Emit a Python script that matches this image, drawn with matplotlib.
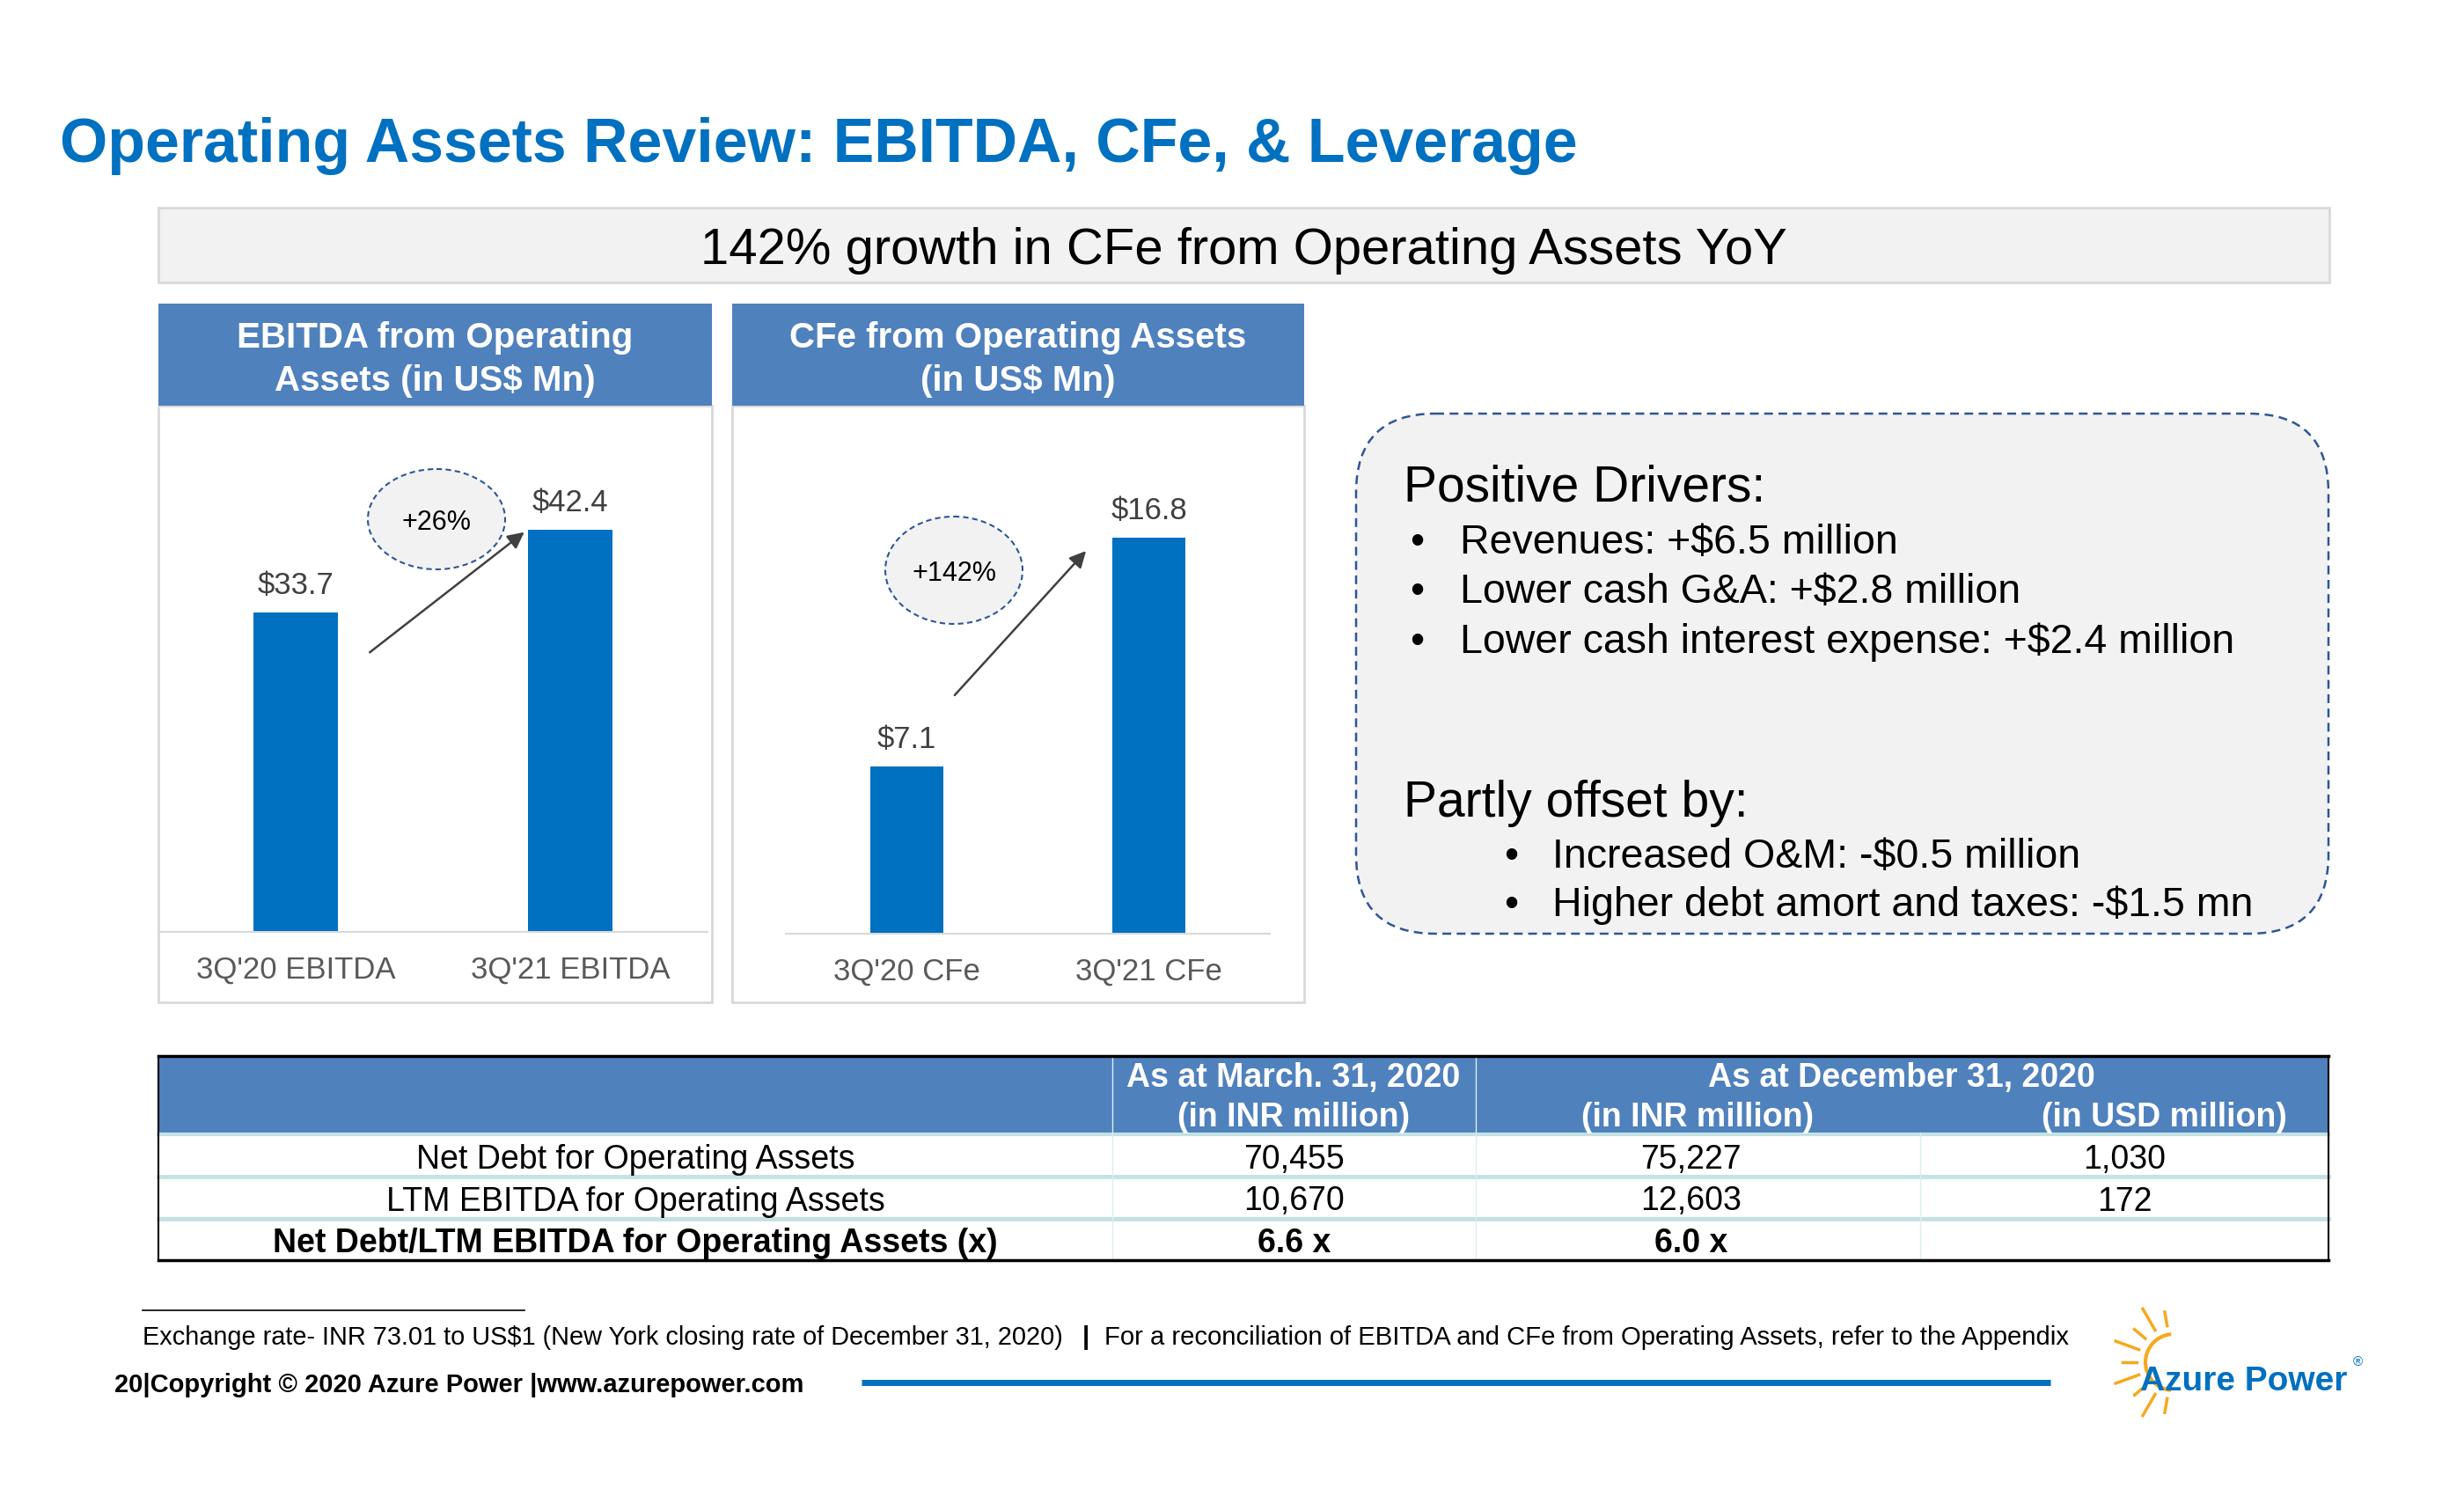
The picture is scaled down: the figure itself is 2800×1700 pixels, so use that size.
import matplotlib
matplotlib.use("Agg")
import matplotlib.pyplot as plt
from matplotlib.patches import Rectangle, Ellipse, FancyBboxPatch, Arc
import numpy as np

plt.rcParams['font.family'] = ['Liberation Sans', 'DejaVu Sans']

# data
ebitda_labels = ["3Q'20 EBITDA", "3Q'21 EBITDA"]
ebitda_values = [33.7, 42.4]
cfe_labels = ["3Q'20 CFe", "3Q'21 CFe"]
cfe_values = [7.1, 16.8]
ebitda_growth = "+26%"
cfe_growth = "+142%"

positive_drivers = ["Revenues: +$6.5 million",
                    "Lower cash G&A: +$2.8 million",
                    "Lower cash interest expense: +$2.4 million"]
offsets = ["Increased O&M: -$0.5 million",
           "Higher debt amort and taxes: -$1.5 mn"]

row_labels = ["Net Debt for Operating Assets",
              "LTM EBITDA for Operating Assets",
              "Net Debt/LTM EBITDA for Operating Assets (x)"]
mar20_inr = ["70,455", "10,670", "6.6 x"]
dec20_inr = ["75,227", "12,603", "6.0 x"]
dec20_usd = ["1,030", "172", ""]

BLUE = '#0070C0'
HEAD = '#4F81BD'
DASH = '#2F5597'
GRAY_BG = '#F2F2F2'

W, H = 2800, 1700
dy = 4  # small vertical nudge for centred text
fig = plt.figure(figsize=(28, 17), dpi=100)

# background layer in pixel coords
bg = fig.add_axes([0, 0, 1, 1], zorder=0)
bg.set_xlim(0, W)
bg.set_ylim(H, 0)
bg.axis('off')

# top layer for text / annotations
fg = fig.add_axes([0, 0, 1, 1], zorder=5)
fg.set_xlim(0, W)
fg.set_ylim(H, 0)
fg.axis('off')
fg.patch.set_alpha(0)

fg.text(68, 166, "Operating Assets Review: EBITDA, CFe, & Leverage", fontsize=50.3,
        fontweight='bold', color=BLUE, ha='left', va='center')

# banner
bg.add_patch(Rectangle((180, 236), 2467, 85, fc=GRAY_BG, ec='#D9D9D9', lw=2))
fg.text(1413, 281 + dy, "142% growth in CFe from Operating Assets YoY", fontsize=41.8,
        ha='center', va='center', color='black')

# chart panels
panels = [(180, 809, ["EBITDA from Operating", "Assets (in US$ Mn)"]),
          (832, 1482, ["CFe from Operating Assets", "(in US$ Mn)"])]
for x0, x1, lines in panels:
    bg.add_patch(Rectangle((x0, 461), x1 - x0, 678, fc='white', ec='#D9D9D9', lw=2))
    bg.add_patch(Rectangle((x0, 345), x1 - x0, 116, fc=HEAD, ec='none'))
    for k, line in enumerate(lines):
        fg.text((x0 + x1) / 2, 380 + dy + k * 49, line, fontsize=29, fontweight='bold',
                color='white', ha='center', va='center')


def bar_panel(rect, labels, values, ymax):
    ax = fig.add_axes(rect, zorder=2)
    ax.patch.set_alpha(0)
    x = np.arange(len(values))
    ax.bar(x, values, width=0.305, color=BLUE)
    ax.set_xlim(-0.5, 1.5)
    ax.set_ylim(0, ymax)
    for s in ['top', 'right', 'left']:
        ax.spines[s].set_visible(False)
    ax.spines['bottom'].set_color('#D9D9D9')
    ax.spines['bottom'].set_linewidth(1.5)
    ax.set_yticks([])
    ax.set_xticks(x)
    ax.set_xticklabels(labels, fontsize=25, color='#595959')
    ax.tick_params(axis='x', length=0, pad=19)
    for xi, v in zip(x, values):
        ax.annotate('$%.1f' % v, (xi, v), xytext=(0, 22), textcoords='offset points',
                    ha='center', va='center', fontsize=25, color='#404040')
    return ax


bar_panel([180 / W, 1 - 1059 / H, 624 / W, 598 / H], ebitda_labels, ebitda_values, 55.5)
bar_panel([893 / W, 1 - 1061 / H, 550 / W, 600 / H], cfe_labels, cfe_values, 22.4)

# growth callouts
for (cx, cy, eh), txt, start, end in [((496, 590, 114), ebitda_growth, (418, 743), (598, 603)),
                                      ((1084, 648, 122), cfe_growth, (1083, 792), (1236, 624))]:
    fg.add_patch(Ellipse((cx, cy), 156, eh, fc=GRAY_BG, ec=DASH, lw=1.5, ls=(0, (3, 2))))
    fg.text(cx, cy + dy, txt, fontsize=22, ha='center', va='center', color='black')
    fg.annotate('', xy=end, xytext=start,
                arrowprops=dict(arrowstyle='-|>', color='#404040', lw=1.8, mutation_scale=28))

# drivers box
bg.add_patch(FancyBboxPatch((1541, 470), 1105, 591, boxstyle="round,pad=0,rounding_size=90",
                            fc=GRAY_BG, ec=DASH, lw=1.8, ls=(0, (4, 2.5))))
fg.text(1595, 550 + dy, "Positive Drivers:", fontsize=41, ha='left', va='center')
for k, item in enumerate(positive_drivers):
    y = 613 + dy + k * 56.5
    fg.text(1602, y, u"\u2022", fontsize=33, ha='left', va='center')
    fg.text(1659, y, item, fontsize=33.5, ha='left', va='center')
fg.text(1595, 909 + dy, "Partly offset by:", fontsize=41, ha='left', va='center')
for k, item in enumerate(offsets):
    y = 970 + dy + k * 55
    fg.text(1709, y, u"\u2022", fontsize=33, ha='left', va='center')
    fg.text(1764, y, item, fontsize=33.5, ha='left', va='center')

# table
tx0, tx1 = 180, 2646
ty0, thead, ty1 = 1200, 1287, 1432
cols = [180, 1264, 1677, 2182, 2646]
bg.add_patch(Rectangle((tx0, ty0), tx1 - tx0, thead - ty0, fc=HEAD, ec='none'))
bg.add_patch(Rectangle((tx0, thead), tx1 - tx0, ty1 - thead, fc='white', ec='none'))
TEAL = '#C4E1E4'
bg.plot([tx0, tx1], [thead + 2, thead + 2], color=TEAL, lw=3)
for yy in [1337, 1385]:
    bg.plot([tx0, tx1], [yy, yy], color=TEAL, lw=3.5)
for xx in cols[1:3]:
    bg.plot([xx, xx], [ty0, ty1], color='#DDEEF0', lw=1)
bg.plot([cols[3], cols[3]], [thead, ty1], color='#DDEEF0', lw=1)
bg.plot([tx0, tx1], [ty0, ty0], color='black', lw=2.5)
bg.plot([tx0, tx1], [ty1, ty1], color='black', lw=2.5)
bg.plot([tx0, tx0], [ty0, ty1], color='black', lw=1.5)
bg.plot([tx1, tx1], [ty0, ty1], color='black', lw=1.5)

hk = dict(fontsize=27, fontweight='bold', color='white', ha='center', va='center')
fg.text(1470, 1221 + dy, "As at March. 31, 2020", **hk)
fg.text(1470, 1266 + dy, "(in INR million)", **hk)
fg.text(2161, 1221 + dy, "As at December 31, 2020", **hk)
fg.text(1929, 1266 + dy, "(in INR million)", **hk)
fg.text(2459, 1266 + dy, "(in USD million)", **hk)

col_centers = [(cols[i] + cols[i + 1]) / 2 for i in range(4)]
for r in range(len(row_labels)):
    y = 1314 + dy + r * 47.5
    w = 'bold' if r == 2 else 'normal'
    cells = [row_labels[r], mar20_inr[r], dec20_inr[r], dec20_usd[r]]
    for c, val in enumerate(cells):
        fg.text(col_centers[c] - (8 if c == 2 else 0), y, val, fontsize=27, fontweight=w,
                ha='center', va='center', color='black')

# footer
fg.plot([162, 596], [1489, 1489], color='black', lw=1.2)
fg.text(162, 1516 + dy, "Exchange rate- INR 73.01 to US$1 (New York closing rate of December 31, 2020)",
        fontsize=20.8, ha='left', va='center')
fg.text(1230, 1516 + dy, "|", fontsize=21, fontweight='bold', ha='left', va='center')
fg.text(1255, 1516 + dy, "For a reconciliation of EBITDA and CFe from Operating Assets, refer to the Appendix",
        fontsize=21.1, ha='left', va='center')
fg.text(130, 1570 + dy, u"20|Copyright \u00a9 2020 Azure Power |www.azurepower.com", fontsize=21,
        fontweight='bold', ha='left', va='center')
fg.plot([979, 2330], [1571, 1571], color=BLUE, lw=5, solid_capstyle='butt')

# logo
sun_c = (2470, 1548)
SUN = '#F5A91E'
fg.add_patch(Arc(sun_c, 64, 64, theta1=95, theta2=265, color=SUN, lw=3))
for a in np.arange(-260, -90, 20):
    t = np.deg2rad(a)
    r0, r1 = 42, (70 if (a // 20) % 2 == 0 else 58)
    fg.plot([sun_c[0] + r0 * np.cos(t), sun_c[0] + r1 * np.cos(t)],
            [sun_c[1] - r0 * np.sin(t), sun_c[1] - r1 * np.sin(t)], color=SUN, lw=2.5)
fg.text(2432, 1566 + dy, "Azure Power", fontsize=28, fontweight='bold', color=BLUE,
        ha='left', va='center')
fg.text(2679, 1548, u"\u00ae", fontsize=11, color=BLUE, ha='center', va='center')

fig.savefig('out.png', dpi=100, facecolor='white')
